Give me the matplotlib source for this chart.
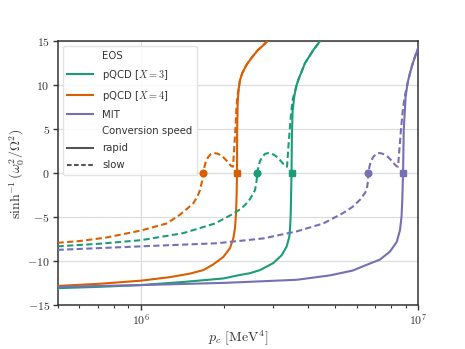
import numpy as np
import matplotlib.pyplot as plt
from matplotlib.lines import Line2D
from matplotlib.ticker import NullFormatter, LogLocator

plt.rcParams['mathtext.fontset'] = 'cm'
plt.rcParams['font.family'] = 'DejaVu Sans'

GREEN = '#1b9e77'
ORANGE = '#d95f02'
PURPLE = '#7570b3'

# p_c in units of 1e6 MeV^4, y = asinh(omega_0^2 / Omega^2)
# pQCD X=4, rapid conversion
x4_rapid = [0.5, 0.711, 1.0, 1.272, 1.502, 1.678, 1.823, 1.981, 2.094, 2.152, 2.182,
            2.2, 2.212, 2.219, 2.222, 2.232, 2.25, 2.275, 2.32, 2.4, 2.5, 2.64, 2.75, 2.85]
y4_rapid = [-12.8, -12.55, -12.2, -11.8, -11.4, -11.0, -10.35, -9.5, -8.5, -7.4, -6.25,
            -4.7, -2.5, 0.0, 5.0, 8.0, 9.6, 10.6, 11.4, 12.3, 13.1, 14.0, 14.5, 15.0]
# pQCD X=4, slow conversion
x4_slow = [0.5, 0.6, 0.75, 1.0, 1.238, 1.382, 1.47, 1.544, 1.60, 1.632, 1.66, 1.678,
           1.695, 1.716, 1.752, 1.789, 1.834, 1.880, 1.928, 1.976, 2.026, 2.078, 2.121,
           2.147, 2.17, 2.19, 2.205, 2.225, 2.25, 2.275, 2.32, 2.4, 2.5, 2.64, 2.75, 2.85]
y4_slow = [-7.9, -7.7, -7.3, -6.5, -5.7, -4.7, -4.0, -3.4, -2.6, -1.9, -0.9, 0.0,
           0.8, 1.4, 1.9, 2.2, 2.3, 2.25, 2.1, 1.85, 1.5, 1.1, 0.8,
           0.75, 3.0, 5.0, 7.0, 8.7, 9.6, 10.6, 11.4, 12.3, 13.1, 14.0, 14.5, 15.0]

# pQCD X=3, rapid conversion
x3_rapid = [0.5, 0.711, 1.0, 1.42, 1.981, 2.275, 2.473, 2.686, 3.0, 3.217, 3.354, 3.426,
            3.447, 3.466, 3.48, 3.49, 3.5, 3.52, 3.57, 3.62, 3.69, 3.8, 3.9, 4.05, 4.18, 4.42]
y3_rapid = [-13.05, -12.9, -12.7, -12.35, -11.95, -11.55, -11.35, -11.0, -10.2, -9.3, -8.3, -7.2,
            -6.25, -4.7, -2.0, 0.0, 4.0, 7.0, 8.7, 9.8, 10.6, 11.6, 12.5, 13.3, 14.0, 15.0]
# pQCD X=3, slow conversion
x3_slow = [0.5, 0.711, 1.0, 1.42, 1.85, 2.15, 2.3, 2.44, 2.53, 2.577, 2.61, 2.627,
           2.653, 2.687, 2.743, 2.800, 2.871, 2.943, 3.018, 3.094, 3.172, 3.252, 3.320,
           3.362, 3.40, 3.44, 3.48, 3.53, 3.6, 3.69, 3.8, 3.9, 4.05, 4.18, 4.42]
y3_slow = [-8.3, -8.0, -7.6, -6.8, -5.7, -4.6, -4.0, -3.2, -2.4, -1.9, -0.9, 0.0,
           0.8, 1.4, 1.9, 2.2, 2.3, 2.25, 2.1, 1.85, 1.5, 1.1, 0.8,
           0.75, 3.0, 5.0, 7.0, 8.5, 9.4, 10.6, 11.6, 12.5, 13.3, 14.0, 15.0]

# MIT, rapid conversion
xm_rapid = [0.5, 1.0, 2.0, 3.644, 4.803, 5.8, 6.515, 7.275, 7.9, 8.36, 8.59, 8.7,
            8.756, 8.79, 8.81, 8.86, 9.0, 9.15, 9.335, 9.55, 9.73, 10.0]
ym_rapid = [-12.9, -12.7, -12.45, -12.1, -11.6, -11.05, -10.4, -9.8, -8.9, -7.8, -6.45, -4.9,
            -3.0, -1.0, 0.0, 4.9, 8.7, 10.3, 11.4, 12.5, 13.25, 14.3]
# MIT, slow conversion
xm_slow = [0.5, 1.0, 1.875, 2.761, 3.644, 4.543, 5.366, 5.8, 6.164, 6.4, 6.515, 6.58, 6.603,
           6.669, 6.753, 6.894, 7.039, 7.216, 7.398, 7.586, 7.777, 7.974, 8.175, 8.344,
           8.45, 8.56, 8.66, 8.78, 8.92, 9.1, 9.335, 9.55, 9.73, 10.0]
ym_slow = [-8.7, -8.3, -7.95, -7.4, -6.6, -5.7, -4.5, -3.8, -3.0, -2.3, -1.9, -0.9, 0.0,
           0.8, 1.4, 1.9, 2.2, 2.3, 2.25, 2.1, 1.85, 1.5, 1.1, 0.8,
           0.75, 3.0, 5.0, 7.0, 8.6, 9.9, 11.4, 12.5, 13.25, 14.3]

# zero crossings (markers), same units
slow_zero = {'X3': 2.627, 'X4': 1.678, 'MIT': 6.603}
rapid_zero = {'X3': 3.49, 'X4': 2.219, 'MIT': 8.81}
UNIT = 1e6

ytick_vals = [-15, -10, -5, 0, 5, 10, 15]
ytick_labels = [r'$-15$', r'$-10$', r'$-5$', r'$0$', r'$5$', r'$10$', r'$15$']
xtick_vals = [1e6, 1e7]
xtick_labels = [r'$10^6$', r'$10^7$']

fig = plt.figure(figsize=(4.65, 3.49), dpi=100)
ax = fig.add_axes([0.1237, 0.1252, 0.7759, 0.7565])

dash = (0, (3.0, 1.6))
lw = 1.5
series = [
    ('X4', ORANGE, x4_rapid, y4_rapid, x4_slow, y4_slow),
    ('X3', GREEN, x3_rapid, y3_rapid, x3_slow, y3_slow),
    ('MIT', PURPLE, xm_rapid, ym_rapid, xm_slow, ym_slow),
]
for key, c, xr, yr, xs, ys in series:
    ax.plot(np.array(xr) * UNIT, yr, color=c, lw=lw, zorder=3)
    ax.plot(np.array(xs) * UNIT, ys, color=c, lw=lw, ls=dash, zorder=3)
    ax.plot([slow_zero[key] * UNIT], [0], 'o', color=c, ms=4.8, zorder=4)
    ax.plot([rapid_zero[key] * UNIT], [0], 's', color=c, ms=4.5, zorder=4)

ax.set_xscale('log')
ax.set_xlim(5e5, 1e7)
ax.set_ylim(-15, 15)
ax.set_yticks(ytick_vals, ytick_labels)
ax.set_xticks(xtick_vals, xtick_labels)
ax.xaxis.set_minor_locator(LogLocator(base=10, subs=np.arange(2, 10)))
ax.xaxis.set_minor_formatter(NullFormatter())
ax.grid(True, which='major', color='#dddddd', lw=0.9, zorder=0)
ax.set_axisbelow(True)
for s in ax.spines.values():
    s.set_color('#333333')
    s.set_linewidth(1.1)
ax.tick_params(which='major', direction='out', length=3.5, width=1, color='#333333',
               labelsize=8.5, labelcolor='#333333', pad=2)
ax.tick_params(which='minor', direction='out', length=2.2, width=0.8, color='#333333')

ax.set_xlabel(r'$p_c\ [\mathrm{MeV}^4]$', fontsize=10, color='#333333', labelpad=1)
ax.set_ylabel(r'$\sinh^{-1}(\omega_0^2/\Omega^2)$', fontsize=10, color='#333333', labelpad=1)

blank = Line2D([], [], color='none')
handles = [blank,
           Line2D([], [], color=GREEN, lw=lw),
           Line2D([], [], color=ORANGE, lw=lw),
           Line2D([], [], color=PURPLE, lw=lw),
           blank,
           Line2D([], [], color='#555555', lw=lw),
           Line2D([], [], color='#555555', lw=lw, ls=(0, (2.2, 1.2)))]
labels = ['EOS', r'pQCD [$X=3$]', r'pQCD [$X=4$]', 'MIT',
          'Conversion speed', 'rapid', 'slow']
leg = ax.legend(handles, labels, loc='upper left', fontsize=7.3, handlelength=2.55,
                handletextpad=0.9, labelspacing=0.68, borderpad=0.45, borderaxespad=0.5,
                framealpha=0.85, edgecolor='#dddddd', fancybox=True)
for t in leg.get_texts():
    t.set_color('#333333')

fig.savefig('out.png', dpi=100)
